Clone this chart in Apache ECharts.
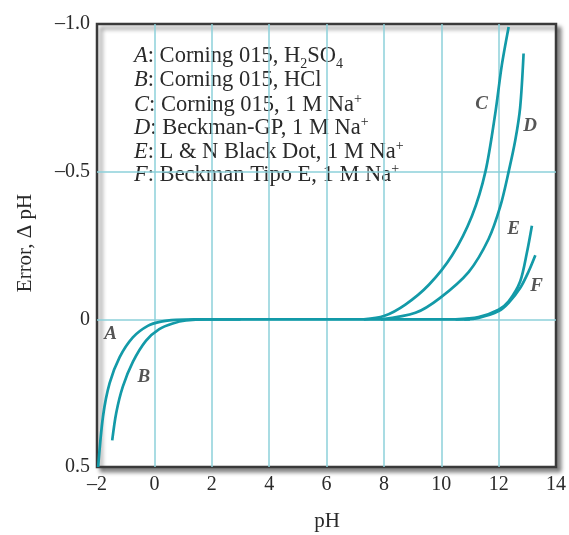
<!DOCTYPE html>
<html><head><meta charset="utf-8">
<script src="https://cdn.jsdelivr.net/npm/echarts@6/dist/echarts.min.js"></script>
<style>html,body{margin:0;padding:0;background:#fff}#c{width:569px;height:535px}</style>
</head><body><div id="c"></div>
<script>
const xTicks = [-2, 0, 2, 4, 6, 8, 10, 12, 14];
const yTicks = [-1.0, -0.5, 0, 0.5];
const curveA = [[-1.96,0.5],[-1.79,0.328],[-1.56,0.216],[-1.21,0.128],[-0.75,0.061],[-0.23,0.022],[0.23,0.008],[0.75,0.002],[1.4,0],[11,0]];
const curveB = [[-1.47,0.41],[-1.33,0.317],[-1.1,0.228],[-0.75,0.144],[-0.29,0.072],[0.17,0.033],[0.64,0.014],[1.1,0.004],[1.8,0],[3,0]];
const curveC = [[7.3,0],[8.0,-0.011],[8.75,-0.05],[9.57,-0.117],[10.38,-0.217],[11.07,-0.35],[11.54,-0.5],[11.88,-0.695],[12.11,-0.86],[12.35,-0.99]];
const curveD = [[7.9,0],[9.1,-0.022],[9.95,-0.072],[10.96,-0.161],[11.65,-0.272],[12.06,-0.383],[12.35,-0.5],[12.58,-0.606],[12.75,-0.717],[12.87,-0.9]];
const curveE = [[10.5,0],[11.3,-0.008],[12.0,-0.033],[12.35,-0.061],[12.75,-0.128],[12.99,-0.228],[13.16,-0.317]];
const curveF = [[10.8,0],[11.3,-0.005],[12.0,-0.028],[12.35,-0.056],[12.75,-0.106],[13.04,-0.161],[13.28,-0.217]];
const curveLabels = [['A',-1.53,0.05],['B',-0.37,0.194],['C',11.41,-0.73],['D',13.1,-0.656],['E',12.52,-0.306],['F',13.32,-0.112]];
const legendLines = [
  ['A', 'Corning 015, H', '2', 'SO', '4'],
  ['B', 'Corning 015, HCl'],
  ['C', 'Corning 015, 1 M Na', '+'],
  ['D', 'Beckman-GP, 1 M Na', '+'],
  ['E', 'L & N Black Dot, 1 M Na', '+'],
  ['F', 'Beckman Tipo E, 1 M Na', '+']
];

const FONT = '"Liberation Serif", "DejaVu Serif", serif';
const LINE = '#139aa8';
const GRIDC = '#8dd0da';
const TXT = '#2a2a2a';

const chart = echarts.init(document.getElementById('c'), null, {renderer:'canvas'});

function legendRich(l){
  let s = '{it|' + l[0] + '}{n|: ';
  if (l.length === 5) {
    s += l[1] + '}{sub|' + l[2] + '}{n|' + l[3] + '}{sub|' + l[4] + '}';
  } else if (l.length === 2) {
    s += l[1] + '}';
  } else {
    s += l[1] + '}{sup|' + l[2] + '}';
  }
  return s;
}

const graphics = legendLines.map((l, i) => ({
  type: 'text', left: 134, top: 45 + i * 23.5,
  style: {
    text: legendRich(l),
    rich: {
      it: {fontFamily: FONT, fontStyle: 'italic', fontSize: 22.5, fill: TXT},
      n: {fontFamily: FONT, fontSize: 22.5, fill: TXT},
      sub: {fontFamily: FONT, fontSize: 14, fill: TXT, padding: [16,0,0,0]},
      sup: {fontFamily: FONT, fontSize: 14, fill: TXT, padding: [0,0,12,0]}
    }
  }
}));
graphics.push({type:'text', x: 327, y: 521, style:{text:'pH', fontFamily: FONT, fontSize: 21, fill: TXT, textAlign:'center', textVerticalAlign:'middle'}});
graphics.push({type:'text', x: 25, y: 243, rotation: Math.PI/2, style:{text:'Error, Δ pH', fontFamily: FONT, fontSize: 21, fill: TXT, textAlign:'center', textVerticalAlign:'middle'}});

function lineSeries(d){
  return {type:'line', data:d, smooth:0.3, showSymbol:false, symbol:'none',
    lineStyle:{color:LINE, width:2.7}, clip:true, z:3};
}

chart.setOption({
  animation:false,
  backgroundColor:'#fff',
  grid:{left:97, right:12, top:24, bottom:68, show:true, backgroundColor:'#fff',
    borderColor:'#3a3a3a', borderWidth:2.5,
    shadowColor:'rgba(0,0,0,0.45)', shadowBlur:4, shadowOffsetX:4, shadowOffsetY:4},
  xAxis:{type:'value', min:-2, max:14, interval:2,
    axisLine:{show:false}, axisTick:{show:false},
    axisLabel:{fontFamily:FONT, fontSize:20, color:TXT, margin:8,
      formatter: v => xTicks.includes(v) ? String(v).replace('-', '–') : ''},
    splitLine:{show:true, showMinLine:false, showMaxLine:false, lineStyle:{color:GRIDC, width:1.5}}},
  yAxis:{type:'value', min:-1, max:0.5, interval:0.5, inverse:true,
    axisLine:{show:false}, axisTick:{show:false},
    axisLabel:{fontFamily:FONT, fontSize:20, color:TXT, margin:7,
      formatter: v => {
        const t = yTicks.find(y => Math.abs(y - v) < 1e-9);
        if (t === undefined) return '';
        if (t === 0) return '0';
        return (t < 0 ? '–' : '') + Math.abs(t).toFixed(1);
      }},
    splitLine:{show:true, showMinLine:false, showMaxLine:false, lineStyle:{color:GRIDC, width:1.5}}},
  graphic: graphics,
  series:[
    lineSeries(curveA), lineSeries(curveB), lineSeries(curveC),
    lineSeries(curveD), lineSeries(curveE), lineSeries(curveF),
    {type:'scatter', data:curveLabels.map(l => ({value:[l[1], l[2]], name:l[0]})),
      symbolSize:0, silent:true, z:5,
      label:{show:true, position:'inside', formatter: p => p.name,
        fontFamily:FONT, fontStyle:'italic', fontWeight:'bold', fontSize:19, color:TXT}}
  ]
});
</script></body></html>
